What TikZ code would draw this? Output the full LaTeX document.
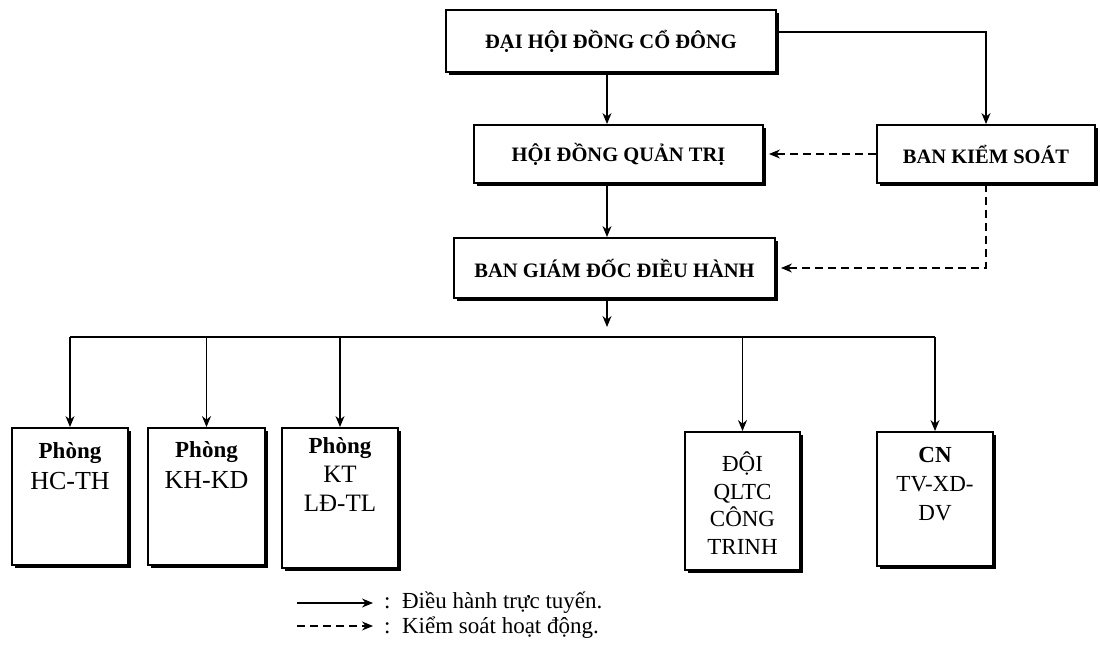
\documentclass[tikz,border=0pt]{standalone}
\usepackage{fontspec}
\setmainfont{Liberation Serif}
\usetikzlibrary{arrows.meta,shadows}
\begin{document}
\begin{tikzpicture}[x=1pt,y=-1pt,
  box/.style={draw,line width=1.9pt,fill=white,inner sep=0pt,
    drop shadow={shadow xshift=2.5pt,shadow yshift=-2.5pt,fill=black,opacity=1}},
  topbox/.style={box,font=\fontsize{20.5}{24}\selectfont\bfseries},
  dept/.style={box},
  depttext/.style={anchor=north,inner sep=0pt,align=center,font=\fontsize{26}{31}\selectfont},
  arr/.style={line width=1.2pt,-{Stealth[length=11pt,width=9pt]}},
  darr/.style={arr,dash pattern=on 8pt off 5pt},
  legtext/.style={anchor=west,inner sep=0pt,font=\fontsize{23}{26}\selectfont}]
\path[use as bounding box] (0,0) rectangle (1100,659);

% top boxes
\node[topbox,minimum width=330pt,minimum height=62pt] (dh) at (611,41) {ĐẠI HỘI ĐỒNG CỔ ĐÔNG};
\node[topbox,minimum width=289pt,minimum height=58pt] (hd) at (618.5,154) {HỘI ĐỒNG QUẢN TRỊ};
\node[topbox,minimum width=218pt,minimum height=58pt] (ks) at (986,154) {BAN KIỂM SOÁT};
\node[topbox,minimum width=321pt,minimum height=60pt] (bg) at (614.5,268) {BAN GIÁM ĐỐC ĐIỀU HÀNH};

% department boxes
\node[dept,minimum width=116pt,minimum height=137pt] (p1) at (70,496.5) {};
\node[dept,minimum width=117pt,minimum height=137pt] (p2) at (206.5,496.5) {};
\node[dept,minimum width=116pt,minimum height=140pt] (p3) at (340,498) {};
\node[dept,minimum width=115pt,minimum height=138pt] (p4) at (742.5,501) {};
\node[dept,minimum width=116pt,minimum height=134pt] (p5) at (935,499) {};

\node[depttext] (t1) at (70,442) {{\fontsize{23}{33}\selectfont\bfseries Phòng}\\HC-TH};
\node[depttext] (t2) at (206.5,441) {{\fontsize{23}{31}\selectfont\bfseries Phòng}\\KH-KD};
\node[depttext,font=\fontsize{25}{29}\selectfont] (t3) at (340,437) {{\fontsize{23}{29}\selectfont\bfseries Phòng}\\KT\\LĐ-TL};
\node[depttext,font=\fontsize{23}{27.5}\selectfont] (t4) at (742.5,452) {ĐỘI\\QLTC\\CÔNG\\TRINH};
\node[depttext,font=\fontsize{23}{29}\selectfont] (t5) at (935,447) {{\bfseries CN}\\TV-XD-\\DV};

% helper coordinates
\coordinate (cx) at (607,0);
\coordinate (ky) at (0,32);
\coordinate (busend) at (0,327);
\coordinate (bus) at (0,337);

% connectors
\draw[arr] (dh.south -| cx) -- (hd.north -| cx);
\draw[arr] (dh.east |- ky) -| (ks.north);
\draw[darr,shorten >=5pt] (ks.west) -- (hd.east);
\draw[arr] (hd.south -| cx) -- (bg.north -| cx);
\draw[darr,shorten >=5pt] (ks.south) |- (bg.east);
\draw[arr] (bg.south -| cx) -- (cx |- busend);
\draw[line width=1.2pt] (p1.north |- bus) -- (p5.north |- bus);
\foreach \p in {p1,p2,p3,p4,p5}
  \draw[arr] (\p.north |- bus) -- (\p.north);

% legend
\coordinate (l1a) at (297,603);
\coordinate (l1b) at (373,603);
\coordinate (l2a) at (297,626);
\coordinate (l2b) at (373,626);
\draw[arr] (l1a) -- (l1b);
\draw[darr] (l2a) -- (l2b);
\node[legtext] (lg1) at (384,603) {:\ \ Điều hành trực tuyến.};
\node[legtext] (lg2) at (384,628) {:\ \ Kiểm soát hoạt động.};
\end{tikzpicture}
\end{document}
